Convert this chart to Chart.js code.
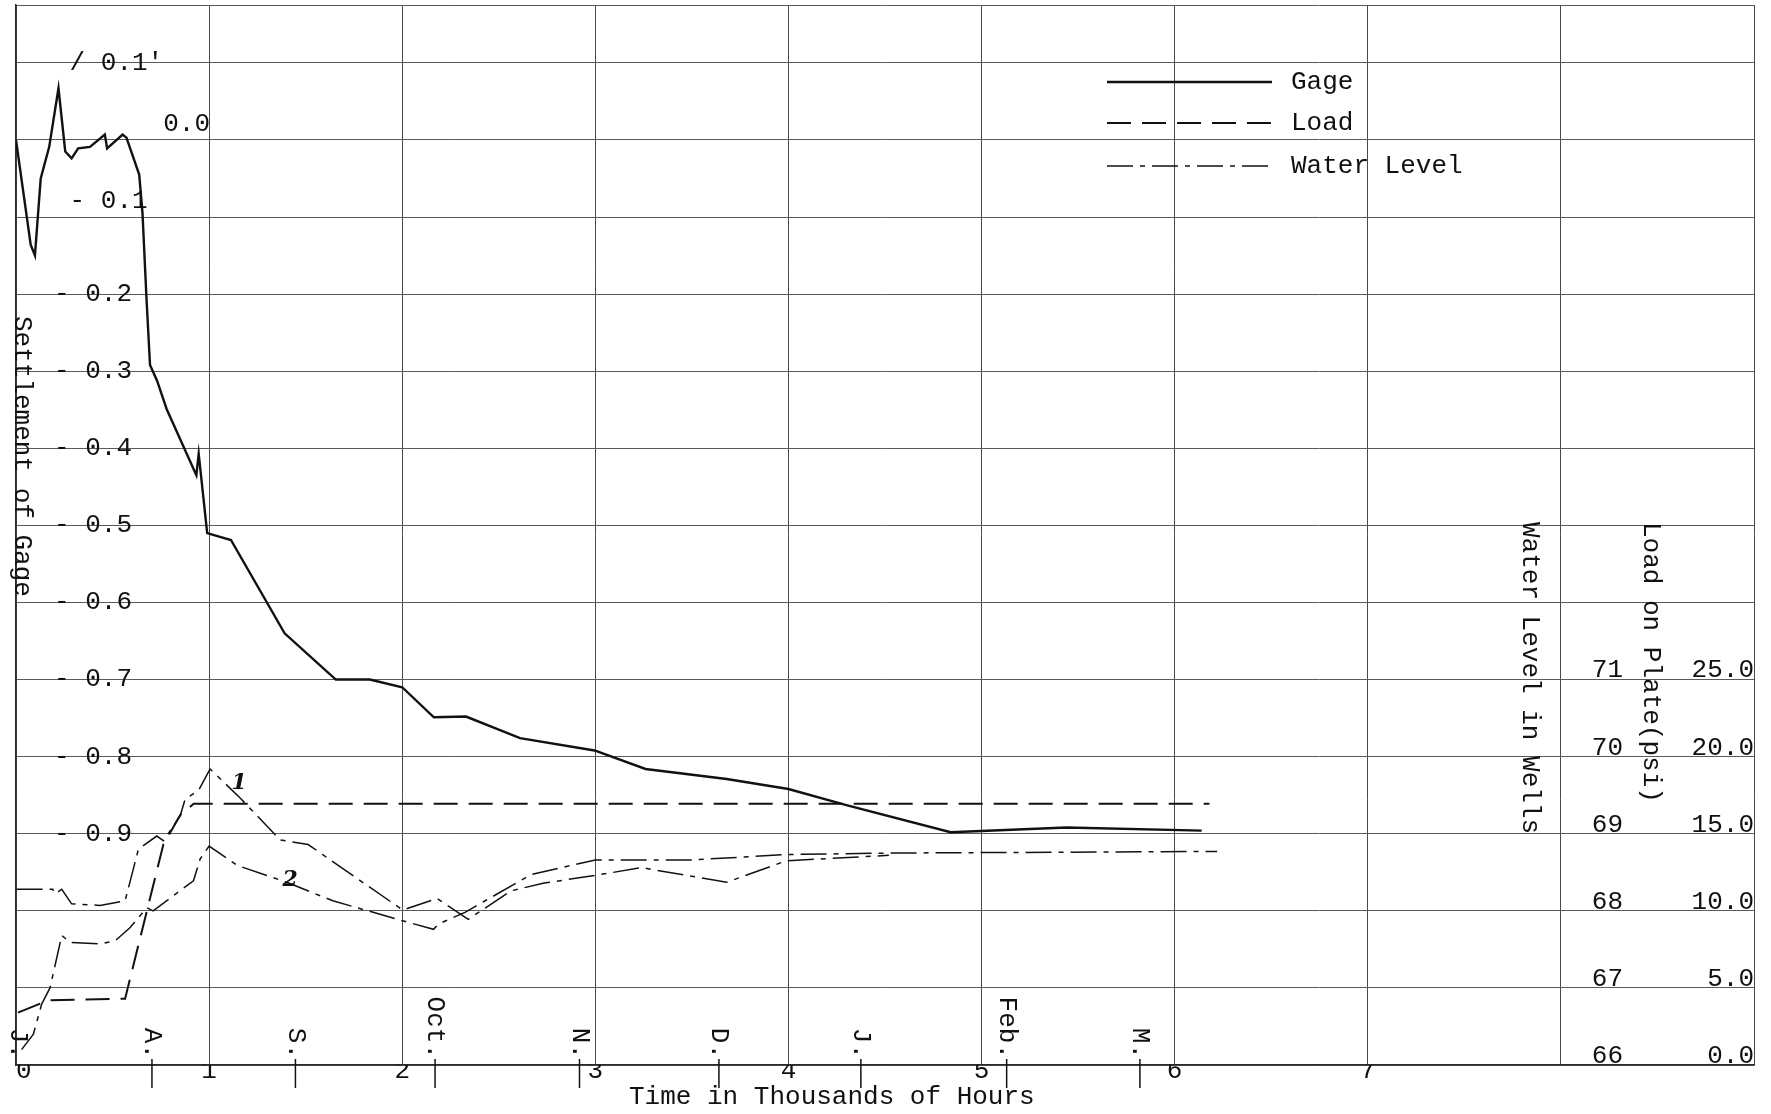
<!DOCTYPE html>
<html>
<head>
<meta charset="utf-8">
<script src="https://cdn.jsdelivr.net/npm/chart.js@4.4.1/dist/chart.umd.min.js"></script>
<style>
  html, body { margin: 0; padding: 0; background: #fff; }
  canvas { display: block; }
</style>
</head>
<body>
<canvas id="myChart" width="1771" height="1114"></canvas>
<script>
// time in thousands of hours, settlement in feet
var gageHours = [0, 0.076, 0.098, 0.128, 0.172, 0.22, 0.255, 0.288, 0.322, 0.383, 0.46, 0.472, 0.552, 0.572,
    0.638, 0.655, 0.676, 0.694, 0.73, 0.78, 0.934, 0.946, 0.99, 1.113, 1.391, 1.656, 1.832, 2.0, 2.164,
    2.33, 2.61, 2.996, 3.26, 3.68, 4.0, 4.3, 4.84, 5.44, 6.14];
var gageSettlement = [0, -0.136, -0.15, -0.05, -0.009, 0.067, -0.015, -0.024, -0.011, -0.009, 0.007, -0.011, 0.007, 0.003,
    -0.045, -0.095, -0.207, -0.292, -0.312, -0.349, -0.435, -0.407, -0.51, -0.519, -0.64, -0.70, -0.70, -0.71, -0.749,
    -0.748, -0.776, -0.792, -0.816, -0.829, -0.842, -0.863, -0.898, -0.892, -0.896];

// load on plate (psi)
var loadHours = [0.01, 0.17, 0.565, 0.763, 0.85, 0.92, 6.18];
var loadPsi = [3.4, 4.2, 4.3, 14.3, 16.2, 16.95, 16.95];

// water level in wells (ft)
var well1Hours = [0.003, 0.19, 0.202, 0.237, 0.288, 0.435, 0.565, 0.634, 0.729, 0.763, 0.85, 0.876, 0.945, 1.005,
    1.162, 1.368, 1.513, 1.812, 2.003, 2.18, 2.342, 2.564, 2.735, 3.0, 3.24, 3.68, 3.99, 4.52];
var well1Level = [68.28, 68.28, 68.22, 68.28, 68.09, 68.07, 68.13, 68.8, 68.97, 68.91, 69.23, 69.45, 69.56, 69.84,
    69.46, 68.92, 68.86, 68.34, 68.01, 68.16, 67.89, 68.26, 68.36, 68.46, 68.56, 68.37, 68.65, 68.72];
var well2Hours = [0.029, 0.09, 0.133, 0.176, 0.237, 0.28, 0.435, 0.513, 0.59, 0.677, 0.71, 0.919, 0.953, 1.0,
    1.145, 1.402, 1.641, 2.003, 2.162, 2.188, 2.325, 2.667, 3.0, 3.5, 3.99, 4.57, 6.22];
var well2Level = [66.2, 66.4, 66.79, 67.0, 67.68, 67.59, 67.57, 67.61, 67.78, 68.04, 68.0, 68.39, 68.67, 68.84,
    68.59, 68.37, 68.13, 67.87, 67.76, 67.83, 67.98, 68.47, 68.66, 68.66, 68.73, 68.75, 68.77];

// tick labels
var xTickText = [' 0', '1', '2', '3', '4', '5', '6', '7', '', ''];
var gageTickValues = [0.1, 0, -0.1, -0.2, -0.3, -0.4, -0.5, -0.6, -0.7, -0.8, -0.9];
var gageTickText = [" / 0.1'", ['       0.0', ''], [' - 0.1', ''], '- 0.2', '- 0.3', '- 0.4', '- 0.5',
    '- 0.6', '- 0.7', '- 0.8', '- 0.9'];
var waterTicks = [71, 70, 69, 68, 67, 66];
var waterTickText = ['71', '70', '69', '68', '67', '66'];
var loadTicks = [25, 20, 15, 10, 5, 0];
var loadTickText = ['25.0', '20.0', '15.0', '10.0', '5.0', '0.0'];

// month marks along the time axis
var monthNames = ['J.', 'A.', 'S.', 'Oct.', 'N.', 'D.', 'J.', 'Feb.', 'M.'];
var monthHours = [0, 0.704, 1.447, 2.17, 2.918, 3.64, 4.375, 5.13, 5.82];

// well tags written next to the curves
var wellTagText = ['1', '2'];
var wellTagHours = [1.155, 1.42];
var wellTagLevel = [69.66, 68.39];

var ink = '#111';
var mono = '"Liberation Mono", "DejaVu Sans Mono", monospace';

function pts(xs, ys) {
    return xs.map(function(x, i){ return {x: x, y: ys[i]}; });
}

function verticalText(ctx, text, x, y, align) {
    ctx.save();
    ctx.translate(x, y);
    ctx.rotate(Math.PI / 2);
    ctx.textAlign = align;
    ctx.textBaseline = 'middle';
    ctx.fillText(text, 0, 0);
    ctx.restore();
}

function noPadding(s) {
    s.paddingTop = 0;
    s.paddingBottom = 0;
    s.paddingLeft = 0;
    s.paddingRight = 0;
}

var paperPlugin = {
    id: 'paper',
    beforeDraw: function(chart){
        var ctx = chart.ctx;
        ctx.save();
        ctx.fillStyle = '#fff';
        ctx.fillRect(0, 0, chart.width, chart.height);
        ctx.restore();
    },
    afterDraw: function(chart){
        var ctx = chart.ctx;
        var xs = chart.scales.x, yw = chart.scales.yWater, yl = chart.scales.yLoad;
        var axisY = chart.chartArea.bottom;
        ctx.save();
        ctx.fillStyle = ink;
        ctx.strokeStyle = ink;
        ctx.font = '26px ' + mono;

        // right hand scales
        ctx.textAlign = 'right';
        ctx.textBaseline = 'middle';
        waterTicks.forEach(function(v, i){
            ctx.fillText(waterTickText[i], 1623, yw.getPixelForValue(v) - 9);
        });
        loadTicks.forEach(function(v, i){
            ctx.fillText(loadTickText[i], 1754, yl.getPixelForValue(v) - 9);
        });

        // axis titles
        verticalText(ctx, 'Settlement of Gage', 22, 316, 'left');
        verticalText(ctx, 'Water Level in Wells', 1530, 522, 'left');
        verticalText(ctx, 'Load on Plate(psi)', 1651, 522, 'left');
        ctx.textAlign = 'left';
        ctx.textBaseline = 'middle';
        ctx.fillText('Time in Thousands of Hours', 629, 1097);

        // month marks
        ctx.lineWidth = 1.5;
        monthHours.forEach(function(h, i){
            var px = xs.getPixelForValue(h);
            if (i > 0) {
                ctx.beginPath();
                ctx.moveTo(px, axisY - 6);
                ctx.lineTo(px, axisY + 23);
                ctx.stroke();
            }
            verticalText(ctx, monthNames[i], px + (i === 0 ? 2 : 0), axisY - 6, 'right');
        });

        // legend
        var rows = [82, 123, 166];
        var names = ['Gage', 'Load', 'Water Level'];
        rows.forEach(function(y, i){
            var ds = chart.data.datasets[i];
            ctx.save();
            ctx.lineWidth = ds.borderWidth;
            ctx.setLineDash(ds.borderDash || []);
            ctx.beginPath();
            ctx.moveTo(1107, y);
            ctx.lineTo(1272, y);
            ctx.stroke();
            ctx.restore();
            ctx.textAlign = 'left';
            ctx.textBaseline = 'middle';
            ctx.fillText(names[i], 1291, y);
        });

        // well tags
        ctx.font = 'italic bold 22px "DejaVu Serif", serif';
        ctx.textAlign = 'center';
        wellTagText.forEach(function(t, i){
            ctx.fillText(t, xs.getPixelForValue(wellTagHours[i]), yw.getPixelForValue(wellTagLevel[i]));
        });
        ctx.restore();
    }
};

var ctx = document.getElementById('myChart');
var myChart = new Chart(ctx, {
    type: 'line',
    data: {
        datasets: [{
            label: 'Gage',
            data: pts(gageHours, gageSettlement),
            yAxisID: 'y',
            borderColor: ink,
            borderWidth: 2.4,
            pointRadius: 0,
            tension: 0
        }, {
            label: 'Load',
            data: pts(loadHours, loadPsi),
            yAxisID: 'yLoad',
            borderColor: ink,
            borderWidth: 2,
            borderDash: [24, 11],
            pointRadius: 0,
            tension: 0
        }, {
            label: 'Water Level',
            data: pts(well1Hours, well1Level),
            yAxisID: 'yWater',
            borderColor: ink,
            borderWidth: 1.5,
            borderDash: [26, 7, 5, 7],
            pointRadius: 0,
            tension: 0
        }, {
            label: 'Water Level 2',
            data: pts(well2Hours, well2Level),
            yAxisID: 'yWater',
            borderColor: ink,
            borderWidth: 1.5,
            borderDash: [26, 7, 5, 7],
            pointRadius: 0,
            tension: 0
        }]
    },
    options: {
        responsive: false,
        devicePixelRatio: 1,
        animation: false,
        layout: {
            padding: {left: 0, right: 17, top: 5, bottom: 0}
        },
        plugins: {
            legend: {display: false},
            tooltip: {enabled: false}
        },
        scales: {
            x: {
                type: 'linear',
                min: 0,
                max: 9,
                afterFit: function(s){ s.height = 49; noPadding(s); },
                grid: {color: '#4a4a4a', lineWidth: 1, drawTicks: false},
                border: {color: '#2a2a2a', width: 1.5},
                ticks: {
                    stepSize: 1,
                    autoSkip: false,
                    maxRotation: 0,
                    padding: 0,
                    color: ink,
                    font: {family: mono, size: 26, lineHeight: 0.5},
                    callback: function(v){ return xTickText[v] !== undefined ? xTickText[v] : ''; }
                }
            },
            y: {
                position: 'left',
                min: -1.2,
                max: 0.175,
                afterFit: function(s){ s.width = 16; noPadding(s); },
                grid: {color: '#5a5a5a', lineWidth: 1, drawTicks: false},
                border: {color: '#2a2a2a', width: 1.5},
                ticks: {
                    stepSize: 0.1,
                    mirror: true,
                    padding: 38,
                    autoSkip: false,
                    color: ink,
                    font: {family: mono, size: 26},
                    callback: function(v){
                        var k = gageTickValues.indexOf(Math.round(v * 10) / 10);
                        if (Math.abs(v - 0.175) < 1e-6 || k < 0) return '';
                        return gageTickText[k];
                    }
                }
            },
            yLoad: {display: false, min: 0, max: 68.75},
            yWater: {display: false, min: 66, max: 79.75}
        }
    },
    plugins: [paperPlugin]
});
</script>
</body>
</html>
